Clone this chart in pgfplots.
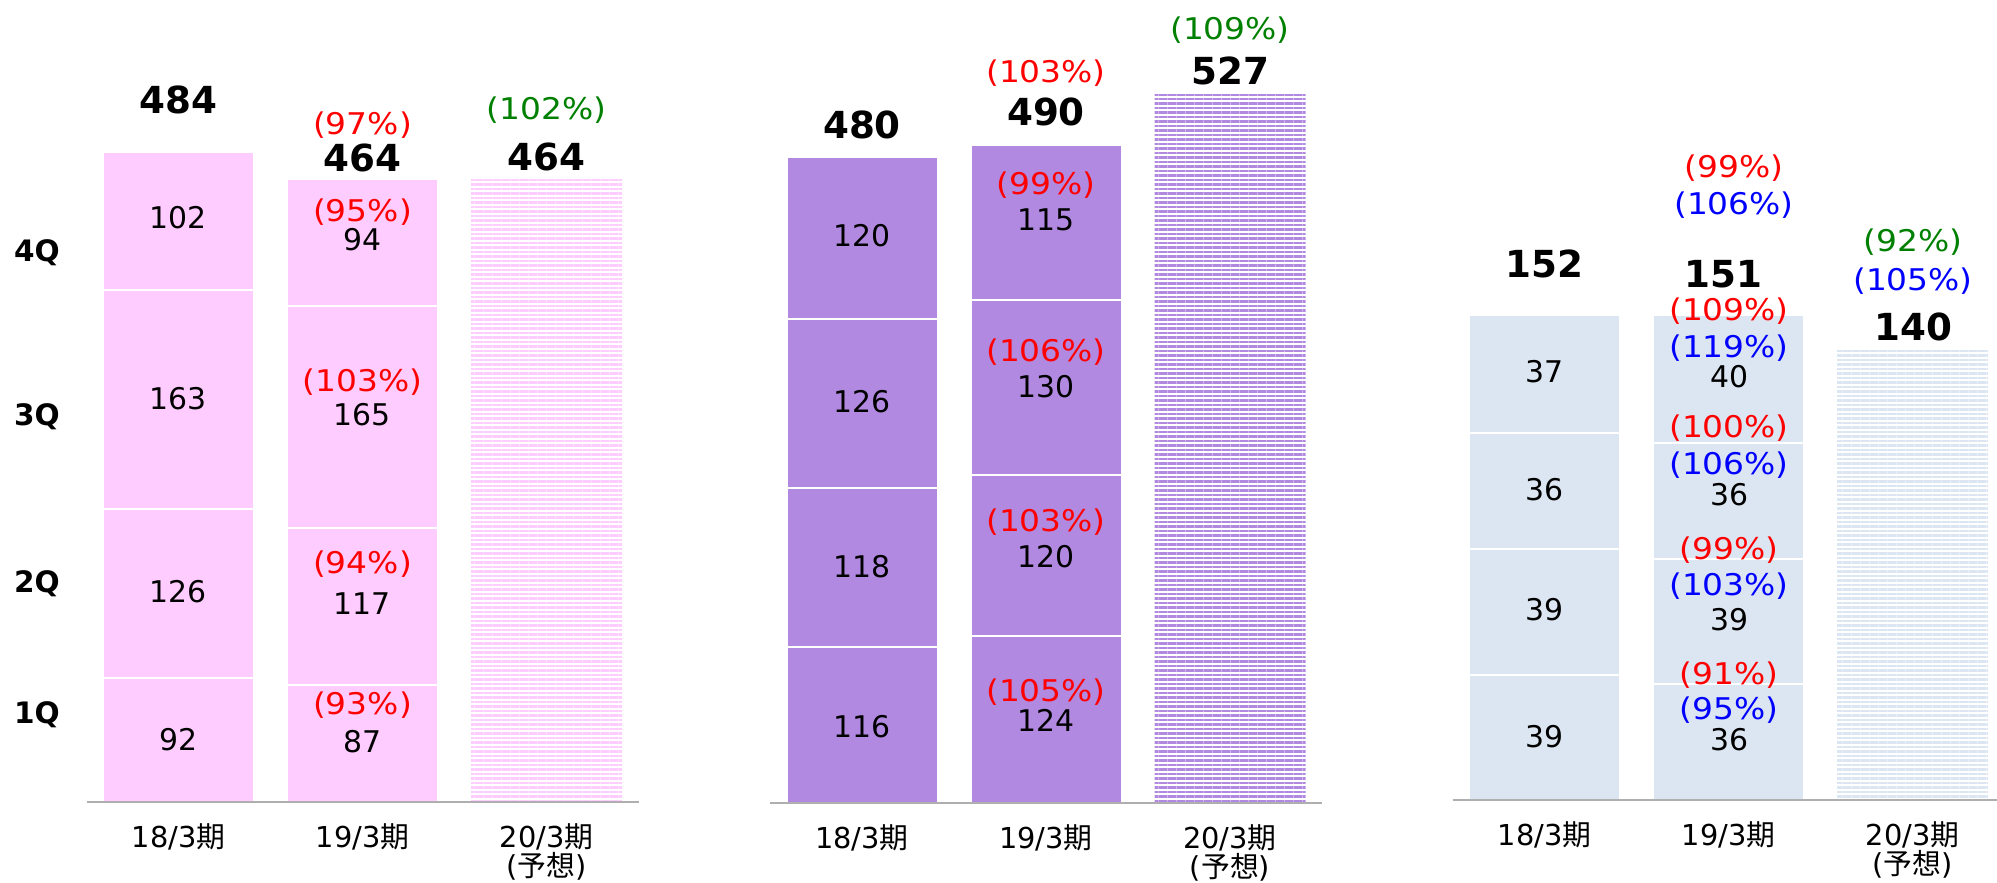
\documentclass[border=0pt]{standalone}
\usepackage{pgfplots}
\pgfplotsset{compat=1.18}
\usetikzlibrary{patterns.meta}
\usepackage{fontspec}
\setmainfont{DejaVu Sans}
\newfontfamily\jp{Noto Sans CJK JP}
\definecolor{pinkc}{RGB}{255,204,255}
\definecolor{purplec}{RGB}{178,137,224}
\definecolor{bluec}{RGB}{220,230,242}
\definecolor{redc}{RGB}{255,0,0}
\definecolor{greenc}{RGB}{0,128,0}
\definecolor{bluet}{RGB}{0,0,255}
\definecolor{axisgray}{RGB}{175,175,175}

\newcommand{\vfont}{\fontsize{8.5}{10}\selectfont}
\newcommand{\tfont}{\fontsize{10.6}{12}\selectfont\bfseries}
\newcommand{\qfont}{\fontsize{8.4}{10}\selectfont\bfseries}
\newcommand{\xfont}{\fontsize{8.2}{8.2}\selectfont}

\newcommand{\vl}[3]{\node[font=\vfont, inner sep=0pt] at (#1,{882-#2}) {#3};}
\newcommand{\rp}[3]{\node[font=\vfont, text=redc, inner sep=0pt] at (#1,{882-#2}) {\scalebox{1.1}[1]{(#3\%)}};}
\newcommand{\gp}[3]{\node[font=\vfont, text=greenc, inner sep=0pt] at (#1,{882-#2}) {\scalebox{1.1}[1]{(#3\%)}};}
\newcommand{\bp}[3]{\node[font=\vfont, text=bluet, inner sep=0pt] at (#1,{882-#2}) {\scalebox{1.1}[1]{(#3\%)}};}
\newcommand{\totl}[3]{\node[font=\tfont, inner sep=0pt] at (#1,{882-#2}) {#3};}
\newcommand{\ql}[2]{\node[font=\qfont, inner sep=0pt] at (37,{882-#1}) {#2};}

\pgfplotsset{
  panel/.style={
    anchor=south west, scale only axis,
    width=55.2mm, xmin=-0.5, xmax=2.5, ymin=0,
    clip=false,
  },
  quarters/.style={
    panel, ybar stacked, bar width=15.1mm,
    axis x line=bottom, axis y line=none,
    axis line style={-, draw=axisgray, line width=0.15mm},
    xtick={0,1,2}, major tick length=0pt,
    xticklabels={{18/3{\jp 期}},{19/3{\jp 期}},{20/3{\jp 期}\\({\jp 予想})}},
    xticklabel style={font=\xfont, align=center, anchor=north, inner sep=0pt, yshift=-2.1mm},
    ytick=\empty, axis on top,
  },
  forecast/.style={panel, ybar, bar width=15.1mm, hide axis},
  seg/.style={fill=#1, draw=white, line width=0.2mm},
  hatch/.style={draw=none, pattern={Lines[angle=0,distance=0.45mm,line width=0.25mm]}, pattern color=#1},
}

\begin{document}
\begin{tikzpicture}[x=0.1mm, y=0.1mm]
\path[use as bounding box] (0,0) rectangle (1997,882);

% ---------- Panel 1 ----------
\begin{axis}[forecast, at={(8.65mm,8.0mm)}, height=79.36mm, ymax=590]
\addplot[hatch=pinkc] coordinates {(2,464)};
\end{axis}
\begin{axis}[quarters, at={(8.65mm,8.0mm)}, height=79.36mm, ymax=590]
\addplot[seg=pinkc] coordinates {(0,92) (1,87)};
\addplot[seg=pinkc] coordinates {(0,126) (1,117)};
\addplot[seg=pinkc] coordinates {(0,163) (1,165)};
\addplot[seg=pinkc] coordinates {(0,102) (1,94)};
\end{axis}

% ---------- Panel 2 ----------
\begin{axis}[forecast, at={(77.0mm,7.9mm)}, height=79.36mm, ymax=590]
\addplot[hatch=purplec] coordinates {(2,527)};
\end{axis}
\begin{axis}[quarters, at={(77.0mm,7.9mm)}, height=79.36mm, ymax=590]
\addplot[seg=purplec] coordinates {(0,116) (1,124)};
\addplot[seg=purplec] coordinates {(0,118) (1,120)};
\addplot[seg=purplec] coordinates {(0,126) (1,130)};
\addplot[seg=purplec] coordinates {(0,120) (1,115)};
\end{axis}

% ---------- Panel 3 ----------
\begin{axis}[forecast, at={(145.25mm,8.2mm)}, height=78.77mm, ymax=245]
\addplot[hatch=bluec] coordinates {(2,140)};
\end{axis}
\begin{axis}[quarters, at={(145.25mm,8.2mm)}, height=78.77mm, ymax=245]
\addplot[seg=bluec] coordinates {(0,39) (1,36)};
\addplot[seg=bluec] coordinates {(0,39) (1,39)};
\addplot[seg=bluec] coordinates {(0,36) (1,36)};
\addplot[seg=bluec] coordinates {(0,37) (1,40)};
\end{axis}

% ---------- Labels panel 1 ----------
\ql{253}{4Q}
\ql{417}{3Q}
\ql{584}{2Q}
\ql{715}{1Q}
\totl{178.5}{100}{484}
\rp{362.5}{125}{97}
\totl{362.5}{158}{464}
\gp{546.5}{110}{102}
\totl{546.5}{157}{464}
\vl{178.5}{218}{102}
\vl{178.5}{399}{163}
\vl{178.5}{592}{126}
\vl{178.5}{740}{92}
\rp{362.5}{212}{95}
\vl{362.5}{240}{94}
\rp{362.5}{382}{103}
\vl{362.5}{415}{165}
\rp{362.5}{564}{94}
\vl{362.5}{604}{117}
\rp{362.5}{705}{93}
\vl{362.5}{742}{87}

% ---------- Labels panel 2 ----------
\totl{862}{125}{480}
\rp{1046}{73}{103}
\totl{1046}{112}{490}
\gp{1230}{30}{109}
\totl{1230}{71}{527}
\vl{862}{236}{120}
\vl{862}{402}{126}
\vl{862}{567}{118}
\vl{862}{727}{116}
\rp{1046}{185}{99}
\vl{1046}{220}{115}
\rp{1046}{352}{106}
\vl{1046}{387}{130}
\rp{1046}{522}{103}
\vl{1046}{557}{120}
\rp{1046}{692}{105}
\vl{1046}{720}{124}

% ---------- Labels panel 3 ----------
\totl{1544.5}{264}{152}
\rp{1734}{168}{99}
\bp{1734}{205}{106}
\totl{1723}{274}{151}
\rp{1729}{311}{109}
\bp{1729}{348}{119}
\vl{1729}{377}{40}
\rp{1729}{428}{100}
\bp{1729}{465}{106}
\vl{1729}{495}{36}
\rp{1729}{550}{99}
\bp{1729}{586}{103}
\vl{1729}{620}{39}
\rp{1729}{675}{91}
\bp{1729}{710}{95}
\vl{1729}{740}{36}
\vl{1544.5}{372}{37}
\vl{1544.5}{490}{36}
\vl{1544.5}{610}{39}
\vl{1544.5}{737}{39}
\gp{1913}{242}{92}
\bp{1913}{281}{105}
\totl{1913}{327}{140}
\end{tikzpicture}
\end{document}
